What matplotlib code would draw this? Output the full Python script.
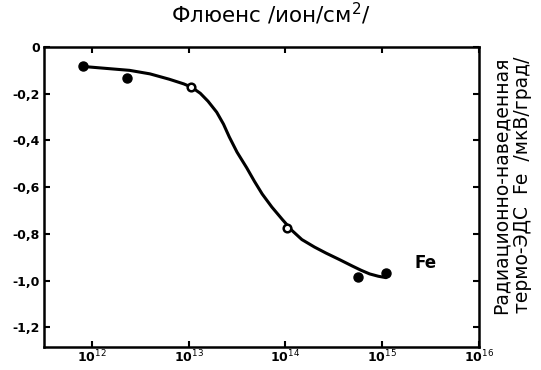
import matplotlib
matplotlib.use("Agg")
import matplotlib.pyplot as plt
from matplotlib.ticker import FixedLocator, FixedFormatter, NullLocator

# data points (fluence in ions/cm^2, thermo-EMF in uV/K)
filled_x = [8.0e11, 2.3e12, 5.6e14, 1.1e15]
filled_y = [-0.083, -0.133, -0.986, -0.969]
open_x = [1.07e13, 1.05e14]
open_y = [-0.172, -0.773]

# hand-drawn smooth curve
curve_logx = [11.90, 12.10, 12.39, 12.60, 12.80, 12.95, 13.03, 13.12, 13.20, 13.29,
              13.36, 13.42, 13.50, 13.60, 13.68, 13.76, 13.86, 13.97, 14.07, 14.17,
              14.30, 14.42, 14.56, 14.69, 14.78, 14.87, 14.96, 15.04]
curve_y = [-0.083, -0.090, -0.100, -0.115, -0.138, -0.158, -0.172, -0.198, -0.232, -0.279,
           -0.330, -0.385, -0.450, -0.517, -0.575, -0.629, -0.685, -0.739, -0.786, -0.824,
           -0.856, -0.882, -0.910, -0.937, -0.955, -0.971, -0.981, -0.987]

xticks = [1e12, 1e13, 1e14, 1e15, 1e16]
xtick_labels = ["10$^{12}$", "10$^{13}$", "10$^{14}$", "10$^{15}$", "10$^{16}$"]
yticks = [0, -0.2, -0.4, -0.6, -0.8, -1.0, -1.2]
ytick_labels = ["0", "-0,2", "-0,4", "-0,6", "-0,8", "-1,0", "-1,2"]

fig = plt.figure(figsize=(5.41, 3.70), dpi=100)
ax = fig.add_axes([0.0813, 0.062, 0.804, 0.811])

curve_x = [10 ** v for v in curve_logx]
ax.plot(curve_x, curve_y, color="black", lw=2.2, solid_capstyle="round",
        solid_joinstyle="round")
ax.plot(filled_x, filled_y, "o", color="black", ms=6.5, zorder=3)
ax.plot(open_x, open_y, "o", mfc="white", mec="black", mew=1.8, ms=5.5, zorder=3)

ax.set_xscale("log")
ax.set_xlim(10 ** 11.505, 1e16)
ax.set_ylim(-1.284, 0.0)
ax.xaxis.set_major_locator(FixedLocator(xticks))
ax.xaxis.set_major_formatter(FixedFormatter(xtick_labels))
ax.xaxis.set_minor_locator(NullLocator())
ax.yaxis.set_major_locator(FixedLocator(yticks))
ax.yaxis.set_major_formatter(FixedFormatter(ytick_labels))

ax.tick_params(axis="both", direction="in", length=4, width=1.5,
               top=True, right=True, labelsize=9)
ax.tick_params(axis="x", pad=1)
ax.tick_params(axis="y", pad=3)
for lab in ax.get_xticklabels() + ax.get_yticklabels():
    lab.set_fontweight("bold")
for sp in ax.spines.values():
    sp.set_linewidth(1.8)

ax.text(10 ** 15.33, -0.923, "Fe", fontsize=12, fontweight="bold", va="center", ha="left")

fig.text(0.50, 0.962, "Флюенс /ион/см$^{2}$/", ha="center", va="center", fontsize=15.5)
fig.text(0.946, 0.50, "Радиационно-наведенная\nтермо-ЭДС  Fe  /мкВ/град/",
         rotation=90, ha="center", va="center", fontsize=13.5, linespacing=1.2)

fig.savefig("out.png", dpi=100)
